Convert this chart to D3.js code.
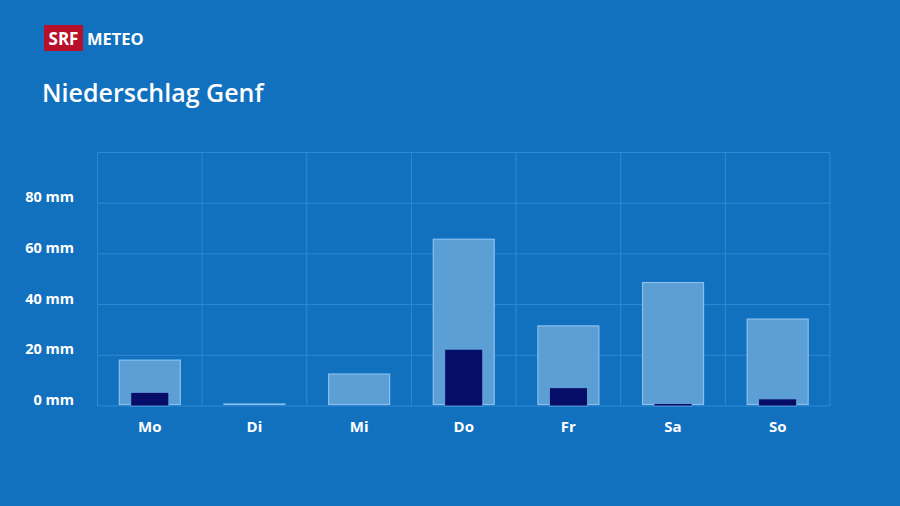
<!DOCTYPE html>
<html>
<head>
<meta charset="utf-8">
<script src="https://cdn.jsdelivr.net/npm/d3@7"></script>
<style>
  body { margin: 0; background: #1271bf; }
  svg { display: block; font-family: "Open Sans", "Noto Sans", sans-serif; }
</style>
</head>
<body>
<script>
var w = 900;
var h = 506;

// data
var days = ["Mo", "Di", "Mi", "Do", "Fr", "Sa", "So"];
var maxRain = [18.1, 0.4, 12.6, 65.8, 31.6, 48.7, 34.3];   // light bars
var probRain = [5.4, 0, 0, 22.4, 7.2, 1.0, 2.8];           // dark bars
var yTicks = [0, 20, 40, 60, 80, 100];

var svg = d3.select("body")
            .append("svg")
            .attr("width", w)
            .attr("height", h);

svg.append("rect").attr("width", w).attr("height", h).attr("fill", "#1271bf");

/** logo **/
svg.append("rect")
    .attr("x", 44).attr("y", 25)
    .attr("width", 39).attr("height", 26)
    .attr("fill", "#b8102a");
svg.append("text")
    .attr("x", 63.5).attr("y", 45)
    .attr("text-anchor", "middle")
    .attr("fill", "#fff")
    .attr("font-size", 17)
    .attr("font-weight", 700)
    .text("SRF");
svg.append("text")
    .attr("x", 87).attr("y", 45)
    .attr("fill", "#fff")
    .attr("font-size", 16.5)
    .attr("font-weight", 700)
    .text("METEO");

/** title **/
svg.append("text")
    .attr("x", 42).attr("y", 102)
    .attr("fill", "#fff")
    .attr("font-size", 25)
    .attr("font-weight", 600)
    .text("Niederschlag Genf");

/** scales **/
var x = d3.scaleBand()
    .domain(days)
    .range([97.5, 830])
    .paddingInner(0).paddingOuter(0);

var y = d3.scaleLinear()
    .domain([0, 100])
    .range([406, 152.5]);

/** grid **/
var grid = svg.append("g").attr("stroke", "#3088d2").attr("stroke-width", 1);
grid.selectAll("line.h")
    .data(yTicks)
    .enter()
    .append("line")
    .attr("class", "h")
    .attr("x1", x.range()[0]).attr("x2", x.range()[1])
    .attr("y1", function(d){ return y(d); })
    .attr("y2", function(d){ return y(d); });
grid.selectAll("line.v")
    .data(days.concat(["end"]))
    .enter()
    .append("line")
    .attr("class", "v")
    .attr("x1", function(d, i){ return x.range()[0] + i * x.bandwidth(); })
    .attr("x2", function(d, i){ return x.range()[0] + i * x.bandwidth(); })
    .attr("y1", y(0)).attr("y2", y(100));

/** y labels **/
svg.selectAll("text.ylab")
    .data(yTicks.slice(0, 5))
    .enter()
    .append("text")
    .attr("class", "ylab")
    .attr("x", 74)
    .attr("y", function(d){ return y(d) - 1; })
    .attr("text-anchor", "end")
    .attr("fill", "#fff")
    .attr("font-size", 14.5)
    .attr("font-weight", 700)
    .text(function(d){ return d + " mm"; });

/** x labels **/
svg.selectAll("text.xlab")
    .data(days)
    .enter()
    .append("text")
    .attr("class", "xlab")
    .attr("x", function(d){ return x(d) + x.bandwidth() / 2; })
    .attr("y", 432)
    .attr("text-anchor", "middle")
    .attr("fill", "#fff")
    .attr("font-size", 15)
    .attr("font-weight", 700)
    .text(function(d){ return d; });

/** light bars **/
var lw = 61;
var base = y(0) - 1.5;
svg.selectAll("rect.max")
    .data(maxRain)
    .enter()
    .append("rect")
    .attr("class", "max")
    .attr("x", function(d, i){ return x(days[i]) + x.bandwidth() / 2 - lw / 2; })
    .attr("y", function(d){ return Math.min(y(d), base - 0.5); })
    .attr("width", lw)
    .attr("height", function(d){ return Math.max(base - y(d), 0.5); })
    .attr("fill", "#5c9fd5")
    .attr("stroke", "#86c0f0")
    .attr("stroke-width", 1.2);

/** dark bars **/
var dw = 38;
svg.selectAll("rect.prob")
    .data(probRain)
    .enter()
    .append("rect")
    .attr("class", "prob")
    .attr("x", function(d, i){ return x(days[i]) + x.bandwidth() / 2 - dw / 2; })
    .attr("y", function(d){ return y(d); })
    .attr("width", dw)
    .attr("height", function(d){ return y(0) - y(d); })
    .attr("fill", "#060e68")
    .attr("stroke", function(d){ return d > 0 ? "#6aa8e0" : "none"; })
    .attr("stroke-width", 0.8);
</script>
</body>
</html>
